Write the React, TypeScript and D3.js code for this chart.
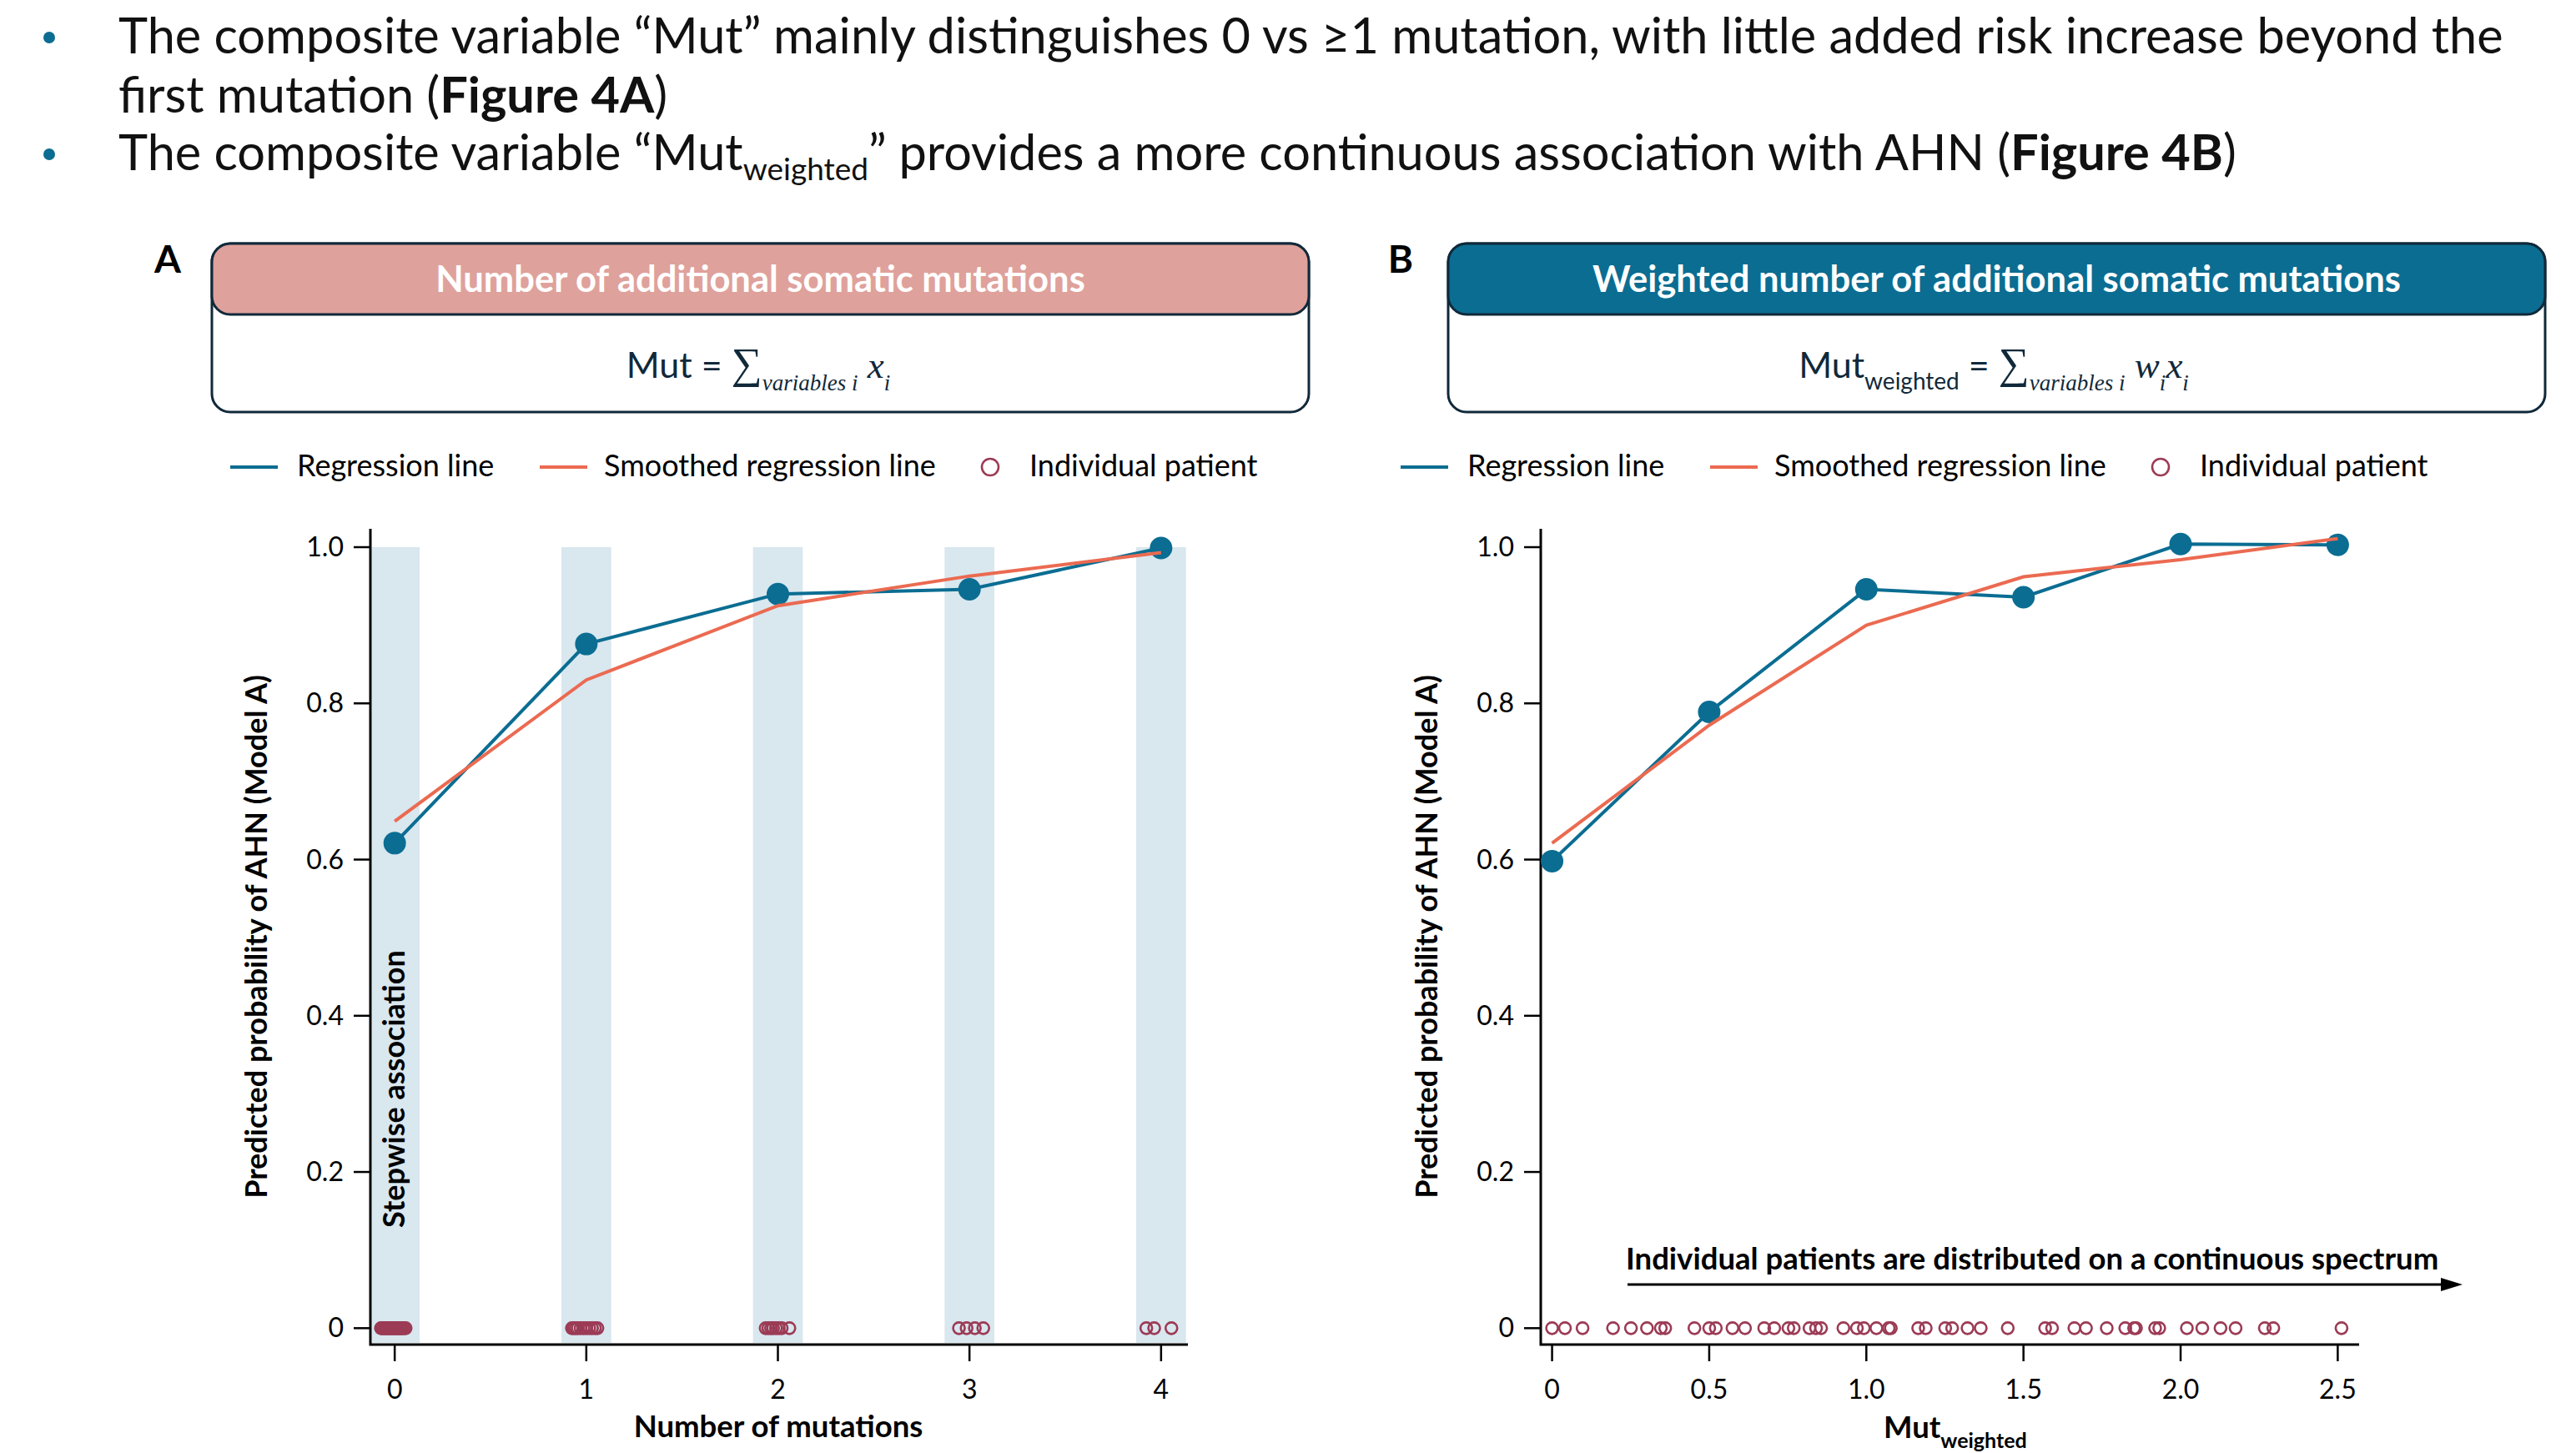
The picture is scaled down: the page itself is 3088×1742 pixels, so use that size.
import React from "react";
import * as d3 from "d3";

const FONT = "Lato, 'Open Sans', sans-serif";
const MATH = "'Liberation Serif', 'DejaVu Serif', serif";

const BLUE = "#0b6d92";
const ORANGE = "#eb6a51";
const PINK = "#dfa19b";
const MAROON = "#9c3b55";
const BAND = "#d9e7ef";
const NAVY = "#10293a";

// panel A: number of mutations
const mutCounts = [0, 1, 2, 3, 4];
const regressionA = [0.621, 0.876, 0.94, 0.946, 0.999];
const smoothedA = [0.649, 0.83, 0.925, 0.963, 0.993];
const patientsA = [
  -0.072, -0.066, -0.06, -0.054, -0.048, -0.042, -0.036, -0.03, -0.024, -0.018,
  -0.012, -0.006, 0, 0.006, 0.012, 0.018, 0.024, 0.03, 0.036, 0.042, 0.05, 0.057,
  0.925, 0.935, 0.945, 0.955, 0.97, 0.985, 1.0, 1.015, 1.03, 1.045, 1.058,
  1.936, 1.95, 1.964, 1.975, 1.99, 2.005, 2.02, 2.06,
  2.945, 2.985, 3.028, 3.072,
  3.923, 3.964, 4.054,
];
const xTicksA = [0, 1, 2, 3, 4];
const xTickLabelsA = ["0", "1", "2", "3", "4"];

// panel B: weighted number of mutations
const weightedX = [0, 0.5, 1.0, 1.5, 2.0, 2.5];
const regressionB = [0.598, 0.789, 0.946, 0.936, 1.004, 1.003];
const smoothedB = [0.621, 0.772, 0.9, 0.962, 0.984, 1.011];
const patientsB = [
  0, 0.041, 0.097, 0.194, 0.251, 0.302, 0.346, 0.36, 0.453, 0.5, 0.521, 0.574,
  0.614, 0.675, 0.707, 0.752, 0.769, 0.819, 0.84, 0.856, 0.927, 0.97, 0.992,
  1.032, 1.071, 1.078, 1.165, 1.189, 1.251, 1.273, 1.322, 1.364, 1.45, 1.569,
  1.591, 1.662, 1.699, 1.765, 1.824, 1.852, 1.858, 1.919, 1.932, 2.02, 2.069,
  2.127, 2.175, 2.268, 2.295, 2.512,
];
const xTicksB = [0, 0.5, 1.0, 1.5, 2.0, 2.5];
const xTickLabelsB = ["0", "0.5", "1.0", "1.5", "2.0", "2.5"];

const yTicks = [0, 0.2, 0.4, 0.6, 0.8, 1.0];
const yTickLabels = ["0", "0.2", "0.4", "0.6", "0.8", "1.0"];

const yScale = d3.scaleLinear().domain([-0.021, 1.0235]).range([1612, 634]);
const xScaleA = d3.scaleLinear().domain([-0.127, 4.14]).range([444, 1424]);
const xScaleB = d3.scaleLinear().domain([-0.036, 2.568]).range([1847, 2828]);

type PanelProps = {
  xScale: d3.ScaleLinear<number, number>;
  xValues: number[];
  regression: number[];
  smoothed: number[];
  patients: number[];
  xTicks: number[];
  xTickLabels: string[];
  bands?: number[];
};

function Panel({ xScale, xValues, regression, smoothed, patients, xTicks, xTickLabels, bands }: PanelProps) {
  const [x0, x1] = xScale.range();
  const [yb, yt] = yScale.range();
  const line = d3
    .line<number>()
    .x((_, i) => xScale(xValues[i]))
    .y((d) => yScale(d));

  return (
    <g>
      {bands &&
        bands.map((c) => {
          const l = Math.max(xScale(c - 0.13), x0 + 1.5);
          const r = xScale(c + 0.13);
          return <rect key={c} x={l} y={yScale(1)} width={r - l} height={yb - 2 - yScale(1)} fill={BAND} />;
        })}
      {patients.map((p, i) => (
        <circle key={i} cx={xScale(p)} cy={yScale(0)} r={7} fill="none" stroke={MAROON} strokeWidth={2.6} />
      ))}
      <path d={`M${x0},${yt}V${yb}H${x1}`} fill="none" stroke="#000" strokeWidth={3} />
      {yTicks.map((t, i) => (
        <g key={t}>
          <line x1={x0 - 20} x2={x0} y1={yScale(t)} y2={yScale(t)} stroke="#000" strokeWidth={2.5} />
          <text x={x0 - 32} y={yScale(t) + 11} textAnchor="end" fontSize={32} fontFamily={FONT}>
            {yTickLabels[i]}
          </text>
        </g>
      ))}
      {xTicks.map((t, i) => (
        <g key={t}>
          <line x1={xScale(t)} x2={xScale(t)} y1={yb} y2={yb + 20} stroke="#000" strokeWidth={2.5} />
          <text x={xScale(t)} y={1677} textAnchor="middle" fontSize={32} fontFamily={FONT}>
            {xTickLabels[i]}
          </text>
        </g>
      ))}
      <path d={line(regression) ?? ""} fill="none" stroke={BLUE} strokeWidth={4} />
      {regression.map((v, i) => (
        <circle key={i} cx={xScale(xValues[i])} cy={yScale(v)} r={13.5} fill={BLUE} />
      ))}
      <path d={line(smoothed) ?? ""} fill="none" stroke={ORANGE} strokeWidth={4} />
      <text
        transform={`translate(${x0 - 124},${(yt + yb) / 2}) rotate(-90)`}
        textAnchor="middle"
        fontSize={36}
        fontWeight="bold"
        fontFamily={FONT}
      >
        Predicted probability of AHN (Model A)
      </text>
    </g>
  );
}

function Legend({ ax }: { ax: number }) {
  const y = 560;
  return (
    <g fontFamily={FONT} fontSize={36}>
      <line x1={ax - 168} x2={ax - 111} y1={y} y2={y} stroke={BLUE} strokeWidth={4} />
      <text x={ax - 88} y={y + 11}>Regression line</text>
      <line x1={ax + 203} x2={ax + 260} y1={y} y2={y} stroke={ORANGE} strokeWidth={4} />
      <text x={ax + 280} y={y + 11}>Smoothed regression line</text>
      <circle cx={ax + 743} cy={y} r={10} fill="none" stroke={MAROON} strokeWidth={2.6} />
      <text x={ax + 790} y={y + 11}>Individual patient</text>
    </g>
  );
}

function Header({ x0, x1, fill, title, children }: { x0: number; x1: number; fill: string; title: string; children: React.ReactNode }) {
  return (
    <g>
      <rect x={x0} y={292} width={x1 - x0} height={202} rx={22} fill="#fff" stroke={NAVY} strokeWidth={3} />
      <rect x={x0} y={292} width={x1 - x0} height={85} rx={22} fill={fill} stroke={NAVY} strokeWidth={3} />
      <text x={(x0 + x1) / 2} y={350} textAnchor="middle" fill="#fff" fontSize={43.5} fontWeight="bold" fontFamily={FONT}>
        {title}
      </text>
      {children}
    </g>
  );
}

export default function App() {
  return (
    <svg width={3088} height={1742} style={{ position: "absolute", left: 0, top: 0, background: "#fff" }}>
      {/* bullets */}
      <g fontFamily={FONT} fontSize={59.5} fill="#111">
        <circle cx={59} cy={45} r={7} fill={BLUE} />
        <text x={142} y={64}>
          The composite variable “Mut” mainly distinguishes 0 vs ≥1 mutation, with little added risk increase beyond the
        </text>
        <text x={142} y={135}>
          first mutation (<tspan fontWeight="bold">Figure 4A</tspan>)
        </text>
        <circle cx={59} cy={185} r={7} fill={BLUE} />
        <text x={142} y={204}>
          The composite variable “Mut
          <tspan fontSize={37} dy={12}>weighted</tspan>
          <tspan dy={-12}>” provides a more continuous association with AHN (</tspan>
          <tspan fontWeight="bold">Figure 4B</tspan>)
        </text>
      </g>

      {/* panel labels */}
      <text x={201} y={327} textAnchor="middle" fontSize={46} fontWeight="bold" fontFamily={FONT}>A</text>
      <text x={1679} y={327} textAnchor="middle" fontSize={46} fontWeight="bold" fontFamily={FONT}>B</text>

      <Header x0={254} x1={1569} fill={PINK} title="Number of additional somatic mutations">
        <text x={909} y={453} textAnchor="middle" fill={NAVY}>
          <tspan fontFamily={FONT} fontSize={43}>Mut = </tspan>
          <tspan fontFamily={MATH} fontSize={52}>∑</tspan>
          <tspan fontFamily={MATH} fontStyle="italic" fontSize={27} dy={15}>variables i</tspan>
          <tspan fontFamily={MATH} fontStyle="italic" fontSize={45} dy={-15}> x</tspan>
          <tspan fontFamily={MATH} fontStyle="italic" fontSize={27} dy={15}>i</tspan>
        </text>
      </Header>
      <Header x0={1736} x1={3051} fill={BLUE} title="Weighted number of additional somatic mutations">
        <text x={2390} y={453} textAnchor="middle" fill={NAVY}>
          <tspan fontFamily={FONT} fontSize={43}>Mut</tspan>
          <tspan fontFamily={FONT} fontSize={28} dy={14}>weighted</tspan>
          <tspan fontFamily={FONT} fontSize={43} dy={-14}> = </tspan>
          <tspan fontFamily={MATH} fontSize={52}>∑</tspan>
          <tspan fontFamily={MATH} fontStyle="italic" fontSize={27} dy={15}>variables i</tspan>
          <tspan fontFamily={MATH} fontStyle="italic" fontSize={45} dy={-15}> w</tspan>
          <tspan fontFamily={MATH} fontStyle="italic" fontSize={27} dy={15}>i</tspan>
          <tspan fontFamily={MATH} fontStyle="italic" fontSize={45} dy={-15}>x</tspan>
          <tspan fontFamily={MATH} fontStyle="italic" fontSize={27} dy={15}>i</tspan>
        </text>
      </Header>

      <Legend ax={444} />
      <Legend ax={1847} />

      <Panel
        xScale={xScaleA}
        xValues={mutCounts}
        regression={regressionA}
        smoothed={smoothedA}
        patients={patientsA}
        xTicks={xTicksA}
        xTickLabels={xTickLabelsA}
        bands={mutCounts}
      />
      <Panel
        xScale={xScaleB}
        xValues={weightedX}
        regression={regressionB}
        smoothed={smoothedB}
        patients={patientsB}
        xTicks={xTicksB}
        xTickLabels={xTickLabelsB}
      />

      {/* panel A annotation */}
      <text transform="translate(485,1472) rotate(-90)" fontSize={36} fontWeight="bold" fontFamily={FONT}>
        Stepwise association
      </text>

      {/* panel B annotation */}
      <text x={1949} y={1522} fontSize={36.5} fontWeight="bold" fontFamily={FONT}>
        Individual patients are distributed on a continuous spectrum
      </text>
      <line x1={1951} x2={2928} y1={1540} y2={1540} stroke="#000" strokeWidth={3} />
      <path d="M2926,1532L2952,1540L2926,1548Z" fill="#000" />

      {/* x axis titles */}
      <text x={933} y={1723} textAnchor="middle" fontSize={36.5} fontWeight="bold" fontFamily={FONT}>
        Number of mutations
      </text>
      <text x={2258} y={1724} fontSize={36.5} fontWeight="bold" fontFamily={FONT}>
        Mut<tspan fontSize={25} dy={12}>weighted</tspan>
      </text>
    </svg>
  );
}
